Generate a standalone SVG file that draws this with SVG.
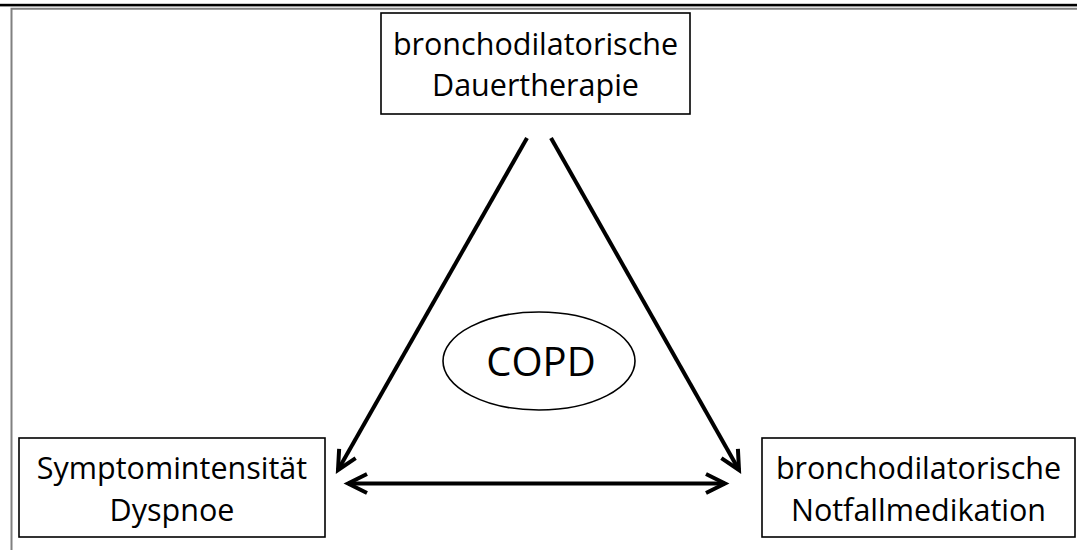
<svg xmlns="http://www.w3.org/2000/svg" width="1077" height="550" viewBox="0 0 1077 550">
<style>
.box{fill:#fff;stroke:#000;stroke-width:1.6}
.t{font-family:"Open Sans","Noto Sans",sans-serif;font-size:30.5px;fill:#000;text-anchor:middle}
.big{font-size:40px}
.arr{stroke:#000;stroke-width:4;fill:none;marker-end:url(#ah)}
</style>
<defs>
<marker id="ah" markerUnits="userSpaceOnUse" markerWidth="28" markerHeight="28" viewBox="0 0 28 28" refX="23" refY="14" orient="auto-start-reverse">
<path d="M4,4.5 L23,14 L4,23.5" fill="none" stroke="#000" stroke-width="4" stroke-linejoin="miter"/>
</marker>
</defs>
<rect width="1077" height="550" fill="#fff"/>
<g id="frame">
<rect x="0" y="3.8" width="1077" height="2.6" fill="#000"/>
<path d="M11.5,550 V8.8 H1077" fill="none" stroke="#808080" stroke-width="2"/>
</g>
<g id="connectors">
<line class="arr" x1="527" y1="138" x2="338" y2="470"/>
<line class="arr" x1="551" y1="138" x2="739" y2="470"/>
<line class="arr" x1="348" y1="483.5" x2="725" y2="483.5" style="marker-start:url(#ah)"/>
</g>
<g id="node-dauertherapie">
<rect class="box" x="381" y="13" width="309" height="101"/>
<text class="t" x="535.5" y="55">bronchodilatorische</text>
<text class="t" x="535.5" y="96">Dauertherapie</text>
</g>
<g id="node-symptom">
<rect class="box" x="19" y="438" width="306" height="99"/>
<text class="t" x="172" y="479">Symptomintensität</text>
<text class="t" x="172" y="521">Dyspnoe</text>
</g>
<g id="node-notfall">
<rect class="box" x="762" y="438" width="313" height="99"/>
<text class="t" x="918.5" y="479">bronchodilatorische</text>
<text class="t" x="918.5" y="521">Notfallmedikation</text>
</g>
<g id="node-copd">
<ellipse class="box" cx="539" cy="361" rx="96" ry="49"/>
<text class="t big" x="541" y="376">COPD</text>
</g>
</svg>
